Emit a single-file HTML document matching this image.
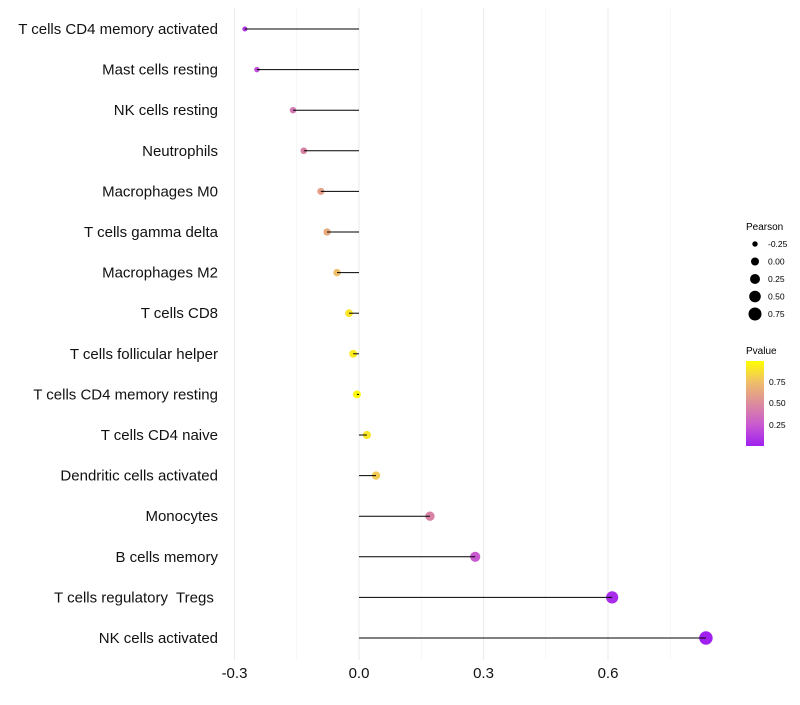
<!DOCTYPE html>
<html><head><meta charset="utf-8"><style>
body{margin:0;background:#fff;font-family:"Liberation Sans",sans-serif}
text{white-space:pre}
</style></head><body>
<svg id="chart" width="800" height="700" xmlns="http://www.w3.org/2000/svg" font-family="Liberation Sans, sans-serif">
<defs><linearGradient id="pg" x1="0" y1="1" x2="0" y2="0">
<stop offset="0" stop-color="#a020f0"/><stop offset="0.25" stop-color="#c95ad0"/><stop offset="0.5" stop-color="#dc8c9c"/><stop offset="0.75" stop-color="#efbe6a"/><stop offset="1" stop-color="#ffff00"/>
</linearGradient></defs>
<g id="grid"></g>
<g id="marks"></g>
<g id="labels"></g>
<g id="xt"></g>
<g id="lp">
<text x="746" y="230" font-size="10">Pearson</text>
</g>
<g>
<text x="746" y="354" font-size="10">Pvalue</text>
<rect x="746" y="361" width="18" height="85" fill="url(#pg)"/>
<text x="769" y="385" font-size="8.5">0.75</text>
<text x="769" y="406" font-size="8.5">0.50</text>
<text x="769" y="428" font-size="8.5">0.25</text>
</g>
</svg>
<script>
const categories=["T cells CD4 memory activated","Mast cells resting","NK cells resting","Neutrophils","Macrophages M0","T cells gamma delta","Macrophages M2","T cells CD8","T cells follicular helper","T cells CD4 memory resting","T cells CD4 naive","Dendritic cells activated","Monocytes","B cells memory","T cells regulatory  Tregs ","NK cells activated"];
const pearson=[-0.275,-0.246,-0.159,-0.133,-0.092,-0.077,-0.053,-0.024,-0.014,-0.005,0.019,0.041,0.171,0.28,0.61,0.836];
const pvalue=[0.1,0.2,0.4,0.45,0.6,0.65,0.75,0.9,0.92,0.97,0.9,0.8,0.45,0.25,0.05,0.0];
const xTicks=[-0.3,0,0.3,0.6];
const xTickLabels=["-0.3","0.0","0.3","0.6"];
const legendSizes=[-0.25,0,0.25,0.5,0.75];
const legendLabels=["-0.25","0.00","0.25","0.50","0.75"];
const NS="http://www.w3.org/2000/svg";
const x=v=>359+v*415;
const y=i=>29+i*40.6;
const r=v=>Math.sqrt(Math.max(2,16+35*v));
const stops=[[0,[160,32,240]],[0.25,[201,90,208]],[0.5,[220,140,156]],[0.75,[239,190,106]],[1,[255,255,0]]];
function col(p){for(let k=1;k<stops.length;k++){if(p<=stops[k][0]){const a=stops[k-1],b=stops[k],t=(p-a[0])/(b[0]-a[0]);return "rgb("+a[1].map((c,j)=>Math.round(c+(b[1][j]-c)*t)).join(",")+")";}}return "rgb(255,255,0)";}
function mk(t,at,p){const e=document.createElementNS(NS,t);for(const k in at)e.setAttribute(k,at[k]);p.appendChild(e);return e;}
const grid=document.getElementById('grid');
[-0.15,0.15,0.45,0.75].forEach(v=>{const l=mk('line',{x1:x(v),x2:x(v),y1:8,y2:660,stroke:'#f3f3f3','stroke-width':0.6},grid);

});
xTicks.forEach((v,i)=>{const l=mk('line',{x1:x(v),x2:x(v),y1:8,y2:660,stroke:'#ebebeb','stroke-width':1.1},grid);


const t=mk('text',{x:x(v),y:678,'font-size':15,'text-anchor':'middle',fill:'#111'},document.getElementById('xt'));
t.textContent=xTickLabels[i];

});
const marks=document.getElementById('marks'),labs=document.getElementById('labels');
categories.forEach((c,i)=>{
const d=mk('circle',{cx:x(pearson[i]),cy:y(i),r:r(pearson[i]),fill:col(pvalue[i])},marks);


const l=mk('line',{x1:x(0),x2:x(pearson[i]),y1:y(i),y2:y(i),stroke:'#000','stroke-width':1},marks);


const t=mk('text',{x:218,y:y(i)+5,'font-size':15,'text-anchor':'end',fill:'#111'},labs);
t.textContent=c;

});
const lp=document.getElementById('lp');
legendSizes.forEach((v,i)=>{const cy=244+i*17.5;
const d=mk('circle',{cx:755,cy:cy,r:r(v),fill:'#000'},lp);


const t=mk('text',{x:768,y:cy+3,'font-size':8.5},lp);
t.textContent=legendLabels[i];

});
</script>
</body></html>
